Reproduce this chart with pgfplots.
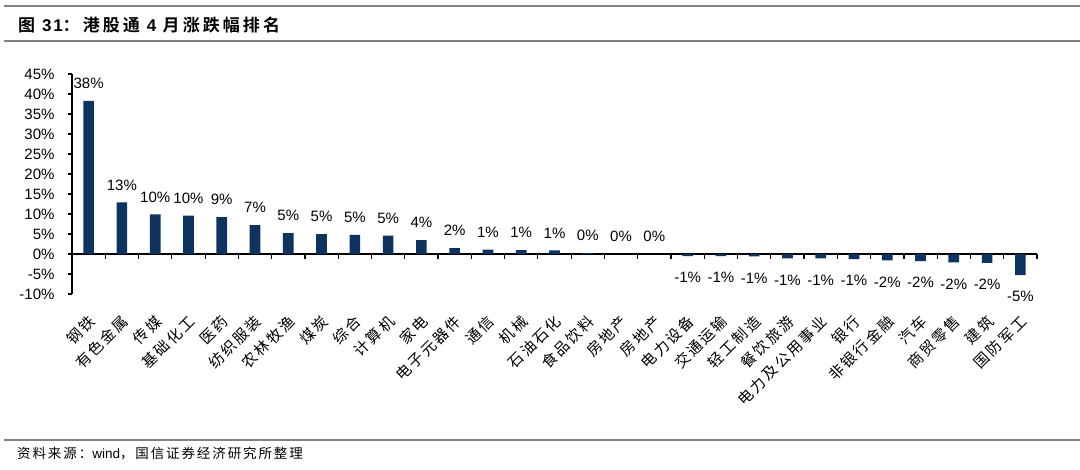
\documentclass[border=0pt]{standalone}
\usepackage{pgfplots}
\pgfplotsset{compat=1.18}
\usepackage{pgfplotstable}
\usepackage{fontspec}
\setmainfont{Liberation Sans}
\newfontfamily\cjkx[LetterSpace=15]{Noto Sans CJK SC}
\newfontfamily\cjkt[LetterSpace=18]{Noto Sans CJK SC Bold}
\newfontfamily\latt[LetterSpace=10]{Liberation Sans}
\newfontfamily\cjkf[LetterSpace=14]{Noto Sans CJK SC}
\definecolor{barblue}{RGB}{16,50,95}
\definecolor{rulegray}{RGB}{130,130,130}

\pgfplotstableread{
x y lab
0 38.3 38
1 12.9 13
2 9.9 10
3 9.6 10
4 9.2 9
5 7.2 7
6 5.2 5
7 5.0 5
8 4.8 5
9 4.6 5
10 3.5 4
11 1.5 2
12 1.1 1
13 1.0 1
14 0.9 1
15 0.2 0
16 0.0 0
17 0.0 0
}\datapos

\pgfplotstableread{
x y lab
18 -0.5 -1
19 -0.5 -1
20 -0.6 -1
21 -1.1 -1
22 -1.1 -1
23 -1.3 -1
24 -1.6 -2
25 -1.8 -2
26 -2.1 -2
27 -2.2 -2
28 -5.3 -5
}\dataneg

\begin{document}
\begin{tikzpicture}
\useasboundingbox (0pt,0pt) rectangle (1080pt,469pt);
\draw[rulegray, line width=1.3pt] (4pt,463pt) -- (1080pt,463pt);
\draw[rulegray, line width=1.3pt] (4pt,428pt) -- (1080pt,428pt);
\draw[rulegray, line width=1.3pt] (4pt,29pt) -- (1080pt,29pt);
\node[anchor=west, inner sep=0pt] at (18pt,444pt) {\fontsize{17}{20}\selectfont{\cjkt 图 }{\latt\bfseries 31}{\cjkt ：港股通 }{\latt\bfseries 4 }{\cjkt 月涨跌幅排名}};
\node[anchor=west, inner sep=0pt] at (17pt,15pt) {\fontsize{13.5}{16}\selectfont{\cjkf 资料来源：}wind{\cjkf ，国信证券经济研究所整理}};
\begin{axis}[
  at={(72pt,175pt)}, anchor=south west,
  scale only axis, width=965pt, height=220pt,
  xmin=-0.5, xmax=28.5, ymin=-10, ymax=45,
  axis x line=middle, axis y line=left,
  axis line style={-, black, line width=1.2pt},
  hide obscured x ticks=false, hide obscured y ticks=false,
  ybar, bar width=0.32,
  xtick={0,...,28},
  xticklabels={钢铁,有色金属,传媒,基础化工,医药,纺织服装,农林牧渔,煤炭,综合,计算机,家电,电子元器件,通信,机械,石油石化,食品饮料,房地产,房地产,电力设备,交通运输,轻工制造,餐饮旅游,电力及公用事业,银行,非银行金融,汽车,商贸零售,建筑,国防军工},
  minor xtick={-0.5,0.5,...,28.5},
  major x tick style={draw=none},
  minor x tick style={black, line width=1.2pt},
  xtick align=outside,
  ytick={-10,-5,...,45},
  yticklabels={-10\%,-5\%,0\%,5\%,10\%,15\%,20\%,25\%,30\%,35\%,40\%,45\%},
  ytick align=outside,
  major tick length=4pt, minor tick length=5pt,
  y tick style={black, line width=1.2pt},
  tick label style={font=\fontsize{15}{18}\selectfont},
  yticklabel style={xshift=-10pt},
  xticklabel style={font={\cjkx\fontsize{15}{18}\selectfont}, xshift=6pt, yshift=-58pt, rotate=45, anchor=east},
  point meta=explicit symbolic,
  nodes near coords={\pgfplotspointmeta\%},
  every node near coord/.append style={font=\fontsize{15}{18}\selectfont},
  clip=false,
]
\addplot[fill=barblue, draw=none, bar shift=0pt,
  every node near coord/.append style={anchor=south, inner ysep=12pt}]
  table[x=x, y=y, meta=lab]{\datapos};
\addplot[fill=barblue, draw=none, bar shift=0pt,
  every node near coord/.append style={anchor=north, inner ysep=16pt}]
  table[x=x, y=y, meta=lab]{\dataneg};
\end{axis}
\end{tikzpicture}
\end{document}
